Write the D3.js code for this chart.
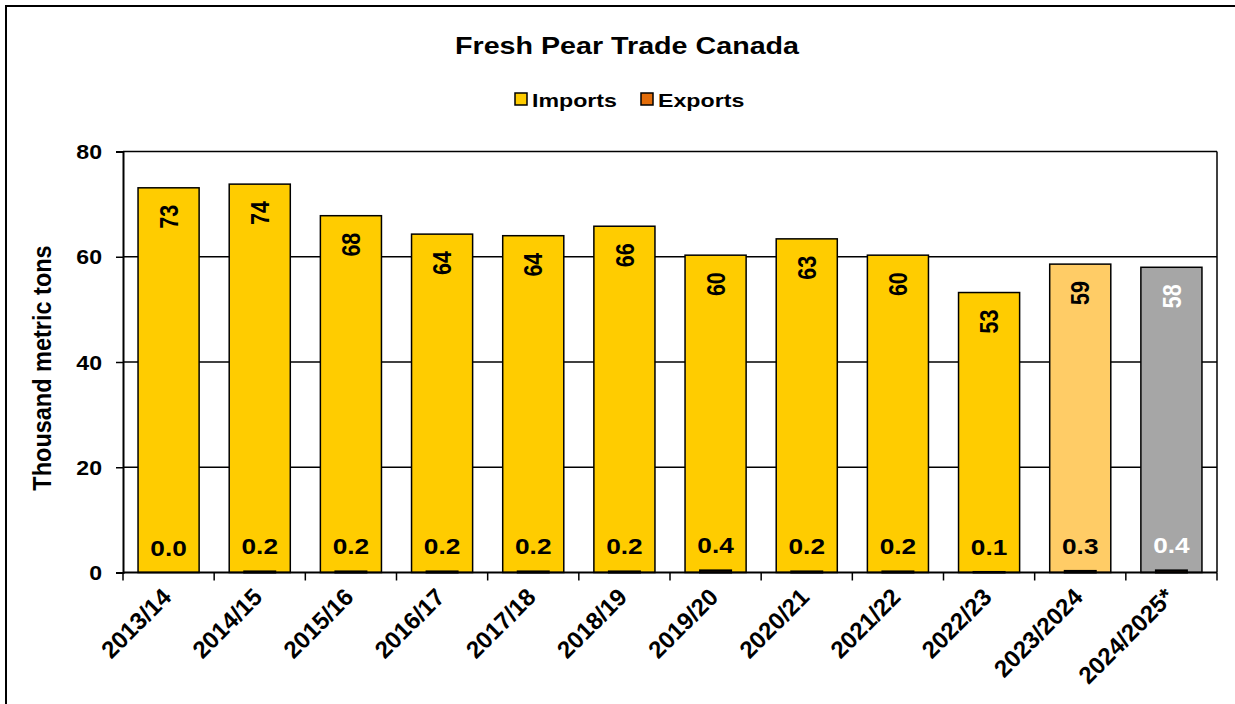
<!DOCTYPE html>
<html>
<head>
<meta charset="utf-8">
<script src="https://cdn.jsdelivr.net/npm/d3@7"></script>
<style>
  html, body { margin: 0; padding: 0; background: #fff; }
  svg { display: block; }
  text { font-family: "Liberation Sans", Arial, sans-serif; font-weight: bold; }
</style>
</head>
<body>
<svg id="chart" width="1235" height="704"></svg>
<script>
// Marketing years shown on the x axis
const years = ["2013/14", "2014/15", "2015/16", "2016/17", "2017/18", "2018/19",
               "2019/20", "2020/21", "2021/22", "2022/23", "2023/2024", "2024/2025*"];
// Fresh pear imports, thousand metric tons
const importVals = [73.1, 73.8, 67.8, 64.3, 64.0, 65.8, 60.3, 63.4, 60.3, 53.2, 58.6, 58.0];
// Fresh pear exports, thousand metric tons
const exportVals = [0.0, 0.2, 0.2, 0.2, 0.2, 0.2, 0.4, 0.2, 0.2, 0.1, 0.3, 0.4];
// Y axis ticks
const yTicks = [0, 20, 40, 60, 80];

const importFill = ["#FFCC00", "#FFCC00", "#FFCC00", "#FFCC00", "#FFCC00", "#FFCC00",
                    "#FFCC00", "#FFCC00", "#FFCC00", "#FFCC00", "#FFCC66", "#A6A6A6"];
const exportColor = "#E36C09";
const SX = 1.22; // horizontal stretch of the lettering

const svg = d3.select("#chart");
svg.append("rect").attr("width", 1235).attr("height", 704).attr("fill", "#fff");

// outer frame (runs off the right and bottom edges)
svg.append("path").attr("d", "M6,710 V6 H1245").attr("fill", "none")
  .attr("stroke", "#000").attr("stroke-width", 2);

const pLeft = 123, pRight = 1217, pTop = 151.5, pBottom = 572.5;
const x = d3.scaleBand().domain(years).range([pLeft, pRight]).paddingInner(0.33).paddingOuter(0.165);
const y = d3.scaleLinear().domain([0, 80]).range([pBottom, pTop]);

// stretched text helper
function sText(g, px, py, str, opts = {}) {
  const rot = opts.rotate ? ` rotate(${opts.rotate})` : "";
  return g.append("text")
    .attr("transform", `translate(${px},${py}) scale(${opts.sx ?? SX},1)${rot}`)
    .attr("text-anchor", opts.anchor || "middle")
    .attr("dy", opts.dy || 0)
    .attr("font-size", opts.size || 21)
    .attr("fill", opts.fill || "#000")
    .text(str);
}

// title
sText(svg, 627, 54, "Fresh Pear Trade Canada", { size: 23.5 });

// legend
const legend = svg.append("g");
const legendItems = [{ name: "Imports", color: "#FFCC00", x: 515 }, { name: "Exports", color: exportColor, x: 641 }];
legendItems.forEach(it => {
  legend.append("rect").attr("x", it.x).attr("y", 93).attr("width", 12).attr("height", 12)
    .attr("fill", it.color).attr("stroke", "#000").attr("stroke-width", 1.5);
  sText(legend, it.x + 17, 107, it.name, { anchor: "start", size: 19 });
});

// gridlines
svg.append("g").selectAll("line").data(yTicks.filter(d => d > 0)).join("line")
  .attr("x1", pLeft).attr("x2", pRight).attr("y1", d => y(d)).attr("y2", d => y(d))
  .attr("stroke", "#000").attr("stroke-width", 1.5);
// right border
svg.append("line").attr("x1", pRight).attr("x2", pRight).attr("y1", pTop).attr("y2", pBottom)
  .attr("stroke", "#000").attr("stroke-width", 1.5);

// import bars
svg.append("g").selectAll("rect").data(importVals).join("rect")
  .attr("x", (d, i) => x(years[i]))
  .attr("width", x.bandwidth())
  .attr("y", d => y(d))
  .attr("height", d => y(0) - y(d))
  .attr("fill", (d, i) => importFill[i])
  .attr("stroke", "#000").attr("stroke-width", 1.5);

// export bars (narrow, centred in each category)
const expW = 31;
svg.append("g").selectAll("rect").data(exportVals).join("rect")
  .attr("x", (d, i) => x(years[i]) + x.bandwidth() / 2 - expW / 2)
  .attr("width", expW)
  .attr("y", d => y(d))
  .attr("height", d => y(0) - y(d))
  .attr("fill", exportColor)
  .attr("stroke", "#000").attr("stroke-width", 2);

// import value labels (rotated, inside the top of the bar)
const fmt0 = d3.format(".0f"), fmt1 = d3.format(".1f");
importVals.forEach((d, i) => {
  sText(svg, x(years[i]) + x.bandwidth() / 2, y(d) + 17, fmt0(d), {
    rotate: -90, anchor: "end", dy: "0.35em", size: 21.5,
    fill: i === 11 ? "#fff" : "#000"
  });
});
// export value labels
exportVals.forEach((d, i) => {
  sText(svg, x(years[i]) + x.bandwidth() / 2, y(d) - 17, fmt1(d), {
    size: 21.5, fill: i === 11 ? "#fff" : "#000"
  });
});

// axes
const yAxis = d3.axisLeft(y).tickValues(yTicks).tickSize(7).tickFormat("");
const gy = svg.append("g").attr("transform", `translate(${pLeft},0)`).call(yAxis);
gy.select(".domain").attr("stroke-width", 2);
gy.selectAll(".tick line").attr("stroke-width", 1.5);
yTicks.forEach(t => sText(gy, -21, y(t), String(t), { anchor: "end", dy: "0.36em", size: 21, sx: 1.1 }));

const step = x.step();
const xAxis = d3.axisBottom(x).tickSize(0).tickFormat("");
const gx = svg.append("g").attr("transform", `translate(0,${pBottom})`).call(xAxis);
gx.select(".domain").attr("stroke-width", 2).attr("d", `M${pLeft},0H${pRight}`);
// tick marks between categories
gx.append("g").selectAll("line").data(d3.range(years.length + 1)).join("line")
  .attr("x1", i => pLeft + i * step).attr("x2", i => pLeft + i * step)
  .attr("y1", 0).attr("y2", 8).attr("stroke", "#000").attr("stroke-width", 1.5);
years.forEach(yr => {
  sText(gx, x(yr) + x.bandwidth() / 2 + 4, 26, yr, { rotate: -45, anchor: "end", size: 24, sx: 1 });
});

// y axis title
sText(svg, 51, 368, "Thousand metric tons", { rotate: -90, size: 23.5, sx: 1.12 });
</script>
</body>
</html>
